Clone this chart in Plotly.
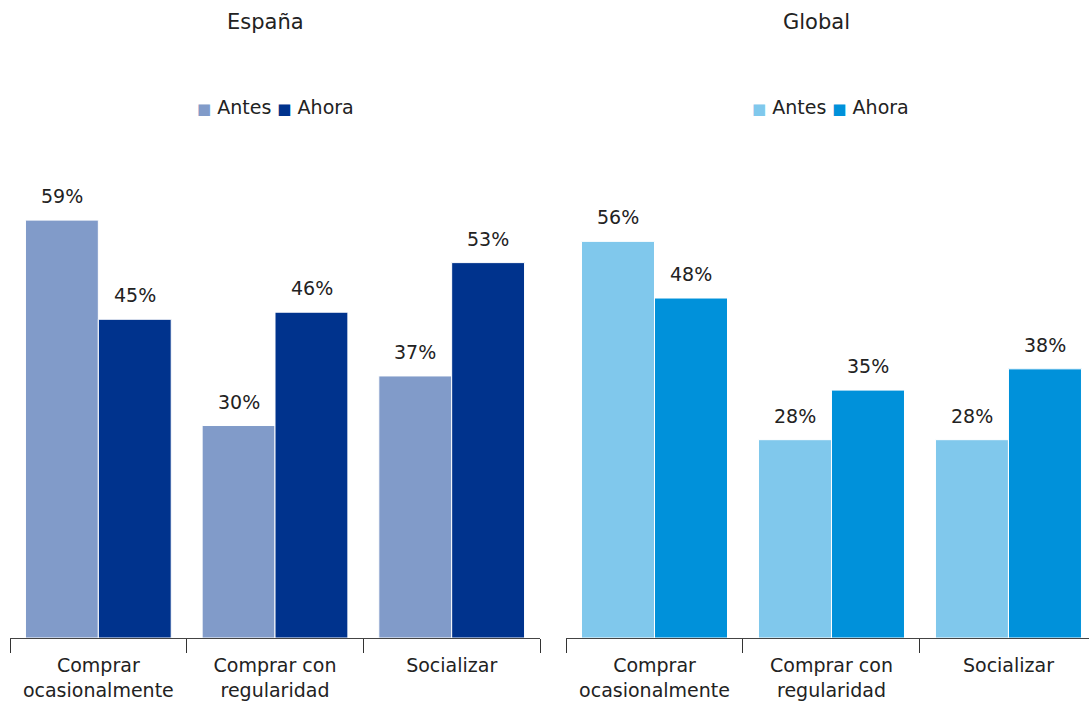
import plotly.graph_objects as go

categories = ["Comprar<br>ocasionalmente", "Comprar con<br>regularidad", "Socializar"]
espana_antes = [59, 30, 37]
espana_ahora = [45, 46, 53]
global_antes = [56, 28, 28]
global_ahora = [48, 35, 38]
series_names = ["Antes", "Ahora"]
titles = ["España", "Global"]

C_ES = ["#819BC9", "#00338D"]
C_GL = ["#80C8EC", "#0091DA"]
FONT = "DejaVu Sans, Liberation Sans, sans-serif"
TXT = "#222222"

fig = go.Figure()

panels = [
    ("x", "y", [espana_antes, espana_ahora], C_ES, 0.2456),
    ("x2", "y2", [global_antes, global_ahora], C_GL, 0.760),
]
for xa, ya, vals, cols, legx in panels:
    for name, v, c in zip(series_names, vals, cols):
        fig.add_trace(go.Bar(
            x=categories, y=v, name=name, xaxis=xa, yaxis=ya,
            marker=dict(color=c, line=dict(color="white", width=1)),
            hoverinfo="skip", showlegend=False,
        ))
        shift = -36.5 if name == "Antes" else 36.5
        for cat, val in zip(categories, v):
            fig.add_annotation(
                x=cat, y=val, xref=xa, yref=ya, text=f"{val}%",
                showarrow=False, xshift=shift, yshift=24, yanchor="middle",
                font=dict(family=FONT, size=19, color=TXT),
            )
    # legend drawn as text: coloured squares followed by series names
    parts = [f'<span style="color:{c};font-size:15px">■</span> {n}'
             for n, c in zip(series_names, cols)]
    fig.add_annotation(x=legx, y=1.088, xref="paper", yref="paper",
                       text=" ".join(parts), showarrow=False,
                       xanchor="center", yanchor="middle",
                       font=dict(family=FONT, size=19, color=TXT))

ymax = 68.9
axis_common = dict(
    showline=True, linecolor="#444444", linewidth=1,
    ticks="outside", tickson="boundaries", ticklen=14, tickcolor="#333333",
    ticklabelstandoff=10,
    tickfont=dict(family=FONT, size=19, color=TXT), showgrid=False, zeroline=False,
)
fig.update_layout(
    width=1089, height=702,
    margin=dict(l=10, r=0, t=150, b=64),
    paper_bgcolor="white", plot_bgcolor="white",
    barmode="group", bargap=0.175, bargroupgap=0,
    showlegend=False,
    xaxis=dict(domain=[0, 0.4912], range=[-0.5, 2.5], **axis_common),
    xaxis2=dict(domain=[0.5153, 1], range=[-0.5, 2.455], anchor="y2", **axis_common),
    yaxis=dict(range=[0, ymax], visible=False),
    yaxis2=dict(range=[0, ymax], visible=False, anchor="x2"),
)

for t, xp in zip(titles, [0.237, 0.747]):
    fig.add_annotation(x=xp, y=1.262, xref="paper", yref="paper", text=t,
                       showarrow=False, xanchor="center", yanchor="middle",
                       font=dict(family=FONT, size=21, color=TXT))

fig.write_html("out.html")
